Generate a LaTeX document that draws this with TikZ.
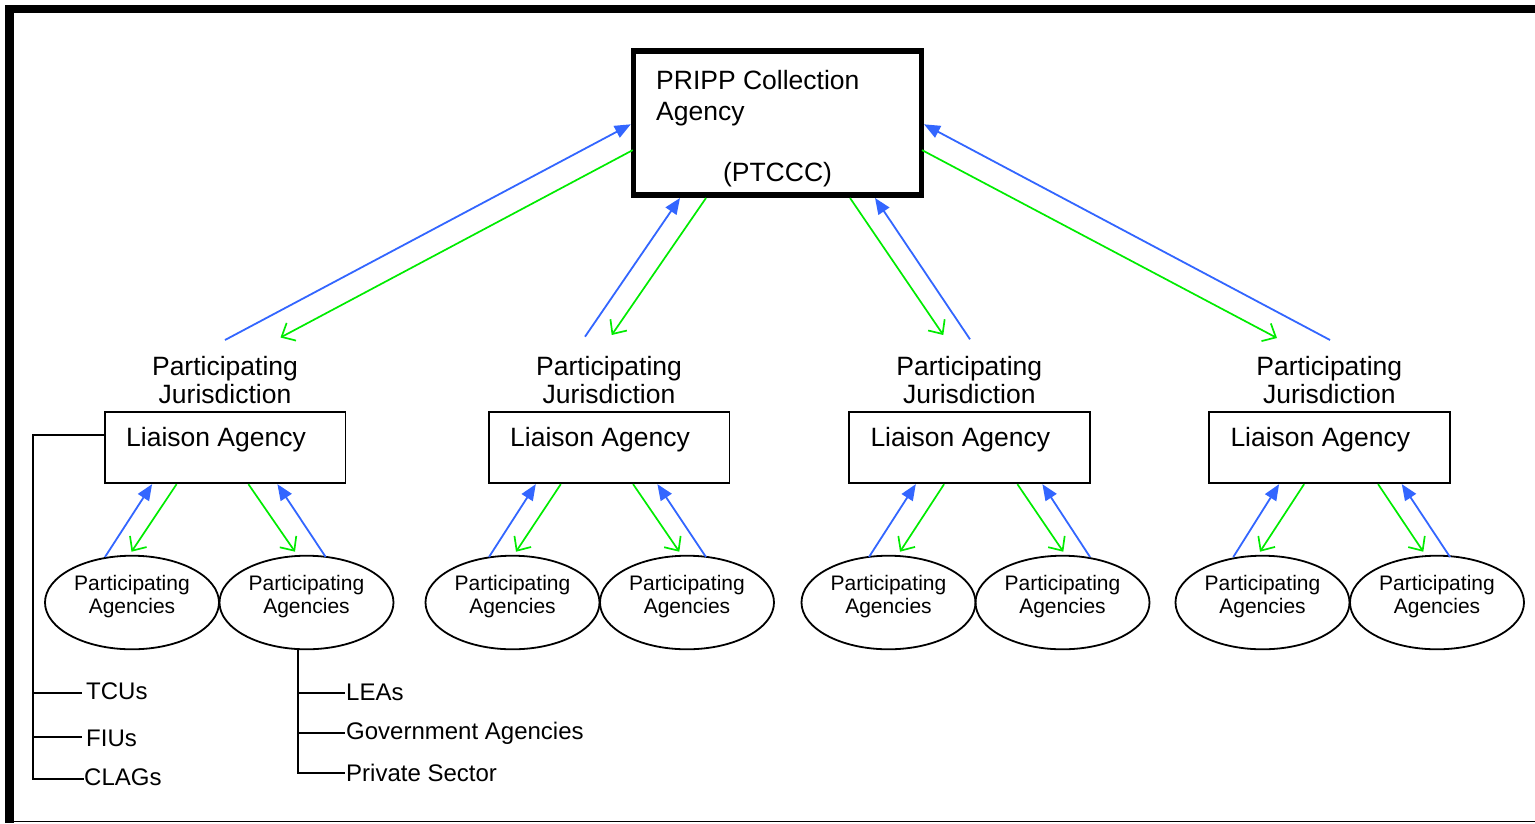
\documentclass[tikz,border=0pt]{standalone}
\usepackage{fontspec}
\setmainfont{Liberation Sans}
\usetikzlibrary{arrows.meta,shapes.geometric,calc}
\definecolor{upblue}{RGB}{51,102,255}
\definecolor{downgreen}{RGB}{0,235,0}
\tikzset{
  bigtxt/.style={font=\fontsize{26.5}{30}\selectfont, inner sep=0pt, anchor=base},
  smalltxt/.style={font=\fontsize{21}{24}\selectfont, inner sep=0pt, anchor=base},
  treetxt/.style={font=\fontsize{24}{28}\selectfont, inner sep=0pt, anchor=base west},
  topbox/.style={draw, line width=5.5pt, fill=white, inner sep=0pt,
                 minimum width=287.75pt, minimum height=144.25pt},
  labox/.style={draw, line width=1.8pt, inner sep=0pt,
                minimum width=240.5pt, minimum height=71.5pt},
  agell/.style={draw, ellipse, line width=1.8pt, inner sep=0pt,
                minimum width=174pt, minimum height=93.6pt},
  upar/.style={draw=upblue, line width=1.8pt, -{Triangle[length=16pt,width=13pt]}},
  downar/.style={draw=downgreen, line width=1.7pt, -{Straight Barb[length=11pt,width=20pt]}},
  tree/.style={draw=black, line width=1.8pt},
}
\begin{document}
\begin{tikzpicture}[x=1pt,y=-1pt]
\useasboundingbox (0,0) rectangle (1535,823);
% frame
\fill[black] (5,5) rectangle (13.7,823);
\fill[black] (5,5) rectangle (1535,13.2);
\fill[black] (13,820.8) rectangle (1535,822.3);

% top box
\node[topbox] (top) at (777.4,123.1) {};
\node[bigtxt, anchor=base west] (tt1) at (656,89) {PRIPP Collection};
\node[bigtxt, anchor=base west] (tt2) at (656,120) {Agency};
\node[bigtxt] (tt3) at (777.5,181.7) {(PTCCC)};

% groups
\foreach \i/\L/\Ea/\Eb/\bls/\blt/\gls/\glt/\grs/\grt/\brs/\brt in {
  1/105/132/306.5/105/153/177.5/131.5/249.3/295/325.7/278.3,
  2/489/512.5/687/489/536.7/561.7/516/634/679.3/706/658.3,
  3/849.3/888.5/1062.5/869/916.7/945/900/1018.3/1063.3/1090/1043.3,
  4/1209.3/1262.5/1437/1233.3/1280/1305/1260/1379/1423.3/1450/1402.7}{
  \node[labox] (la\i) at (\L+120.25,447.5) {};
  \node[bigtxt, anchor=base west] (lt\i) at (\L+21,446.5) {Liaison Agency};
  \node[bigtxt] (jp\i) at (\L+120,375) {Participating};
  \node[bigtxt] (jj\i) at (\L+120,403.5) {Jurisdiction};
  \node[agell] (pa\i) at (\Ea,602.5) {};
  \node[agell] (pb\i) at (\Eb,602.5) {};
  \node[smalltxt] (pat\i) at (\Ea,590) {Participating};
  \node[smalltxt] (paa\i) at (\Ea,613.5) {Agencies};
  \node[smalltxt] (pbt\i) at (\Eb,590) {Participating};
  \node[smalltxt] (pba\i) at (\Eb,613.5) {Agencies};
  \draw[upar] ($(pa\i.center)+(\bls-\Ea,-45.5)$) -- ($(la\i.south west)+(\blt-\L,0)$);
  \draw[downar] ($(la\i.south west)+(\gls-\L,0)$) -- ($(pa\i.center)+(\glt-\Ea,-50.8)$);
  \draw[downar] ($(la\i.south west)+(\grs-\L,0)$) -- ($(pb\i.center)+(\grt-\Eb,-50.8)$);
  \draw[upar] ($(pb\i.center)+(\brs-\Eb,-45.5)$) -- ($(la\i.south west)+(\brt-\L,0)$);
}

% free ends of top-level connectors
\coordinate (j1u) at (225,340);
\coordinate (j1d) at (280.5,337.5);
\coordinate (j2u) at (585,336.7);
\coordinate (j2d) at (611.7,335);
\coordinate (j3d) at (943.3,335);
\coordinate (j3u) at (970,339.3);
\coordinate (j4d) at (1277,338);
\coordinate (j4u) at (1330,340);

\draw[upar] (j1u) -- ($(top.west)+(0,1.2)$);
\draw[downar] ($(top.west)+(2,27)$) -- (j1d);
\draw[upar] (j2u) -- ($(top.south west)+(49.25,0)$);
\draw[downar] ($(top.south west)+(75.25,0)$) -- (j2d);
\draw[downar] ($(top.south west)+(219.25,0)$) -- (j3d);
\draw[upar] (j3u) -- ($(top.south west)+(244.25,0)$);
\draw[upar] (j4u) -- ($(top.east)+(0,1.2)$);
\draw[downar] ($(top.east)+(-2,27)$) -- (j4d);

% left tree
\node[treetxt] (tcu) at (86,699.3) {TCUs};
\node[treetxt] (fiu) at (86,746.7) {FIUs};
\node[treetxt] (clag) at (84,785.7) {CLAGs};
\draw[tree] ($(la1.west)+(0,-12.5)$) -| ($(clag.base west)+(-50.7,-6.4)$) -- ($(clag.base west)+(0,-6.4)$);
\draw[tree] ($(tcu.base west)+(-52.7,-6)$) -- ($(tcu.base west)+(-4.3,-6)$);
\draw[tree] ($(fiu.base west)+(-52.7,-10)$) -- ($(fiu.base west)+(-4.3,-10)$);

% right tree
\node[treetxt] (lea) at (346,700.7) {LEAs};
\node[treetxt] (gov) at (346,739.3) {Government Agencies};
\node[treetxt] (prv) at (346,781.7) {Private Sector};
\draw[tree] ($(pb1.south)+(-8.8,0)$) |- ($(prv.base west)+(-1,-8.4)$);
\draw[tree] ($(lea.base west)+(-48.3,-8)$) -- ($(lea.base west)+(-1,-8)$);
\draw[tree] ($(gov.base west)+(-48.3,-6.6)$) -- ($(gov.base west)+(-1,-6.6)$);
\end{tikzpicture}
\end{document}
